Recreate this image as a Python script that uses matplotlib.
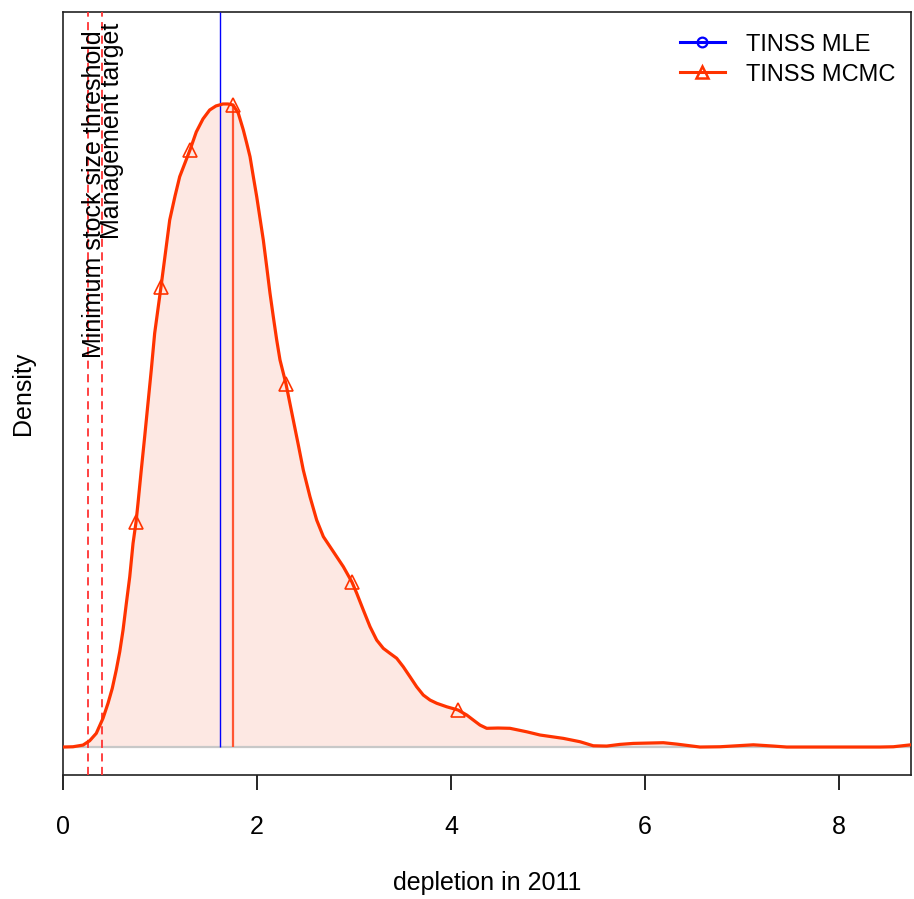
import matplotlib
matplotlib.use("Agg")
import matplotlib.pyplot as plt
from matplotlib.lines import Line2D

plt.rcParams['font.family'] = ['Liberation Sans', 'DejaVu Sans']

# Posterior density of 2011 depletion (TINSS MCMC)
depletion = [0.000, 0.103, 0.206, 0.275, 0.343, 0.412, 0.464, 0.508, 0.549,
             0.585, 0.619, 0.653, 0.688, 0.722, 0.753, 0.773, 0.807, 0.842,
             0.876, 0.910, 0.945, 1.010, 1.100, 1.155, 1.203, 1.309, 1.374,
             1.443, 1.512, 1.577, 1.649, 1.701, 1.753, 1.807, 1.859, 1.894,
             1.928, 1.962, 1.997, 2.031, 2.065, 2.100, 2.134, 2.168, 2.203,
             2.237, 2.299, 2.374, 2.426, 2.477, 2.546, 2.615, 2.684, 2.753,
             2.822, 2.890, 2.979, 3.028, 3.096, 3.165, 3.234, 3.302, 3.371,
             3.440, 3.508, 3.577, 3.646, 3.714, 3.784, 3.853, 3.956, 4.072,
             4.162, 4.230, 4.299, 4.368, 4.485, 4.608, 4.781, 4.918, 5.158,
             5.330, 5.467, 5.605, 5.742, 5.879, 6.189, 6.327, 6.567, 6.773,
             7.117, 7.323, 7.461, 8.423, 8.560, 8.742]
density = [0.0000, 0.0002, 0.0014, 0.0045, 0.0098, 0.0205, 0.0313, 0.0420,
           0.0551, 0.0682, 0.0837, 0.1028, 0.1218, 0.1457, 0.1610, 0.1743,
           0.1982, 0.2220, 0.2459, 0.2697, 0.2960, 0.3291, 0.3770, 0.3942,
           0.4080, 0.4271, 0.4400, 0.4493, 0.4557, 0.4586, 0.4600, 0.4600,
           0.4593, 0.4534, 0.4414, 0.4319, 0.4223, 0.4080, 0.3937, 0.3782,
           0.3627, 0.3436, 0.3246, 0.3078, 0.2912, 0.2769, 0.2597, 0.2339,
           0.2161, 0.1982, 0.1791, 0.1624, 0.1505, 0.1433, 0.1361, 0.1290,
           0.1180, 0.1100, 0.0980, 0.0861, 0.0765, 0.0706, 0.0670, 0.0635,
           0.0574, 0.0503, 0.0431, 0.0372, 0.0336, 0.0313, 0.0288, 0.0265,
           0.0229, 0.0193, 0.0157, 0.0134, 0.0136, 0.0134, 0.0109, 0.0086,
           0.0062, 0.0038, 0.0009, 0.0007, 0.0019, 0.0026, 0.0031, 0.0021,
           0.0000, 0.0002, 0.0016, 0.0007, 0.0000, 0.0000, 0.0002, 0.0016]
# depletion values carrying a symbol on the MCMC curve
marker_depletion = [0.753, 1.010, 1.309, 1.753, 2.299, 2.979, 4.072]

mle_depletion = 1.619      # TINSS MLE point estimate
mcmc_depletion = 1.753     # MCMC central value
msst = 0.258               # minimum stock size threshold
target = 0.402             # management target

x_ticks = [0, 2, 4, 6, 8]
x_limits = (0.0, 8.742)
y_limits = (-0.0200, 0.5258)

curve_col = '#FF3300'
fill_col = '#FDE8E3'

fig = plt.figure(figsize=(9.14, 8.99), dpi=100)
ax = fig.add_axes([63 / 914, 124 / 899, (911 - 63) / 914, 763 / 899])

ax.fill_between(depletion, 0, density, color=fill_col, lw=0, zorder=1)
ax.axhline(0, color='#C8C8C8', lw=1.6, zorder=2)

ax.vlines(mle_depletion, 0, y_limits[1], color='#0000FF', lw=1.0, zorder=3)
mcmc_height = density[depletion.index(mcmc_depletion)]
ax.vlines(mcmc_depletion, 0, mcmc_height, color='#FF5533', lw=1.6, zorder=3)

for ref in (msst, target):
    ax.axvline(ref, color='#FF3333', lw=1.3, linestyle=(0, (4.5, 3)), zorder=3)

ax.plot(depletion, density, color=curve_col, lw=2.3, zorder=4,
        solid_joinstyle='round', solid_capstyle='round')
marker_idx = [depletion.index(v) for v in marker_depletion]
ax.plot([depletion[i] for i in marker_idx], [density[i] for i in marker_idx],
        linestyle='none', marker='^', ms=10, mfc='none', mec=curve_col,
        mew=1.2, zorder=5)

ax.text(0.390, 0.513, 'Minimum stock size threshold', rotation=90,
        rotation_mode='anchor', ha='right', va='baseline', fontsize=18,
        zorder=6)
ax.text(0.575, 0.518, 'Management target', rotation=90,
        rotation_mode='anchor', ha='right', va='baseline', fontsize=18,
        zorder=6)

ax.set_xlim(*x_limits)
ax.set_ylim(*y_limits)
ax.set_xticks(x_ticks)
ax.set_xticklabels([str(t) for t in x_ticks])
ax.set_yticks([])
ax.tick_params(axis='x', direction='out', length=11, width=1.2,
               labelsize=18, pad=18, colors='black')
for sp in ax.spines.values():
    sp.set_linewidth(1.2)
    sp.set_color('#222222')

ax.set_xlabel('depletion in 2011', fontsize=18, labelpad=23)
ax.set_ylabel('Density', fontsize=18, labelpad=20)

handles = [
    Line2D([], [], color='#0000FF', lw=2.2, marker='o', ms=7, mfc='none',
           mec='#0000FF', mew=1.6),
    Line2D([], [], color=curve_col, lw=2.2, marker='^', ms=8, mfc='none',
           mec=curve_col, mew=1.8),
]
ax.legend(handles, ['TINSS MLE', 'TINSS MCMC'], loc='upper left',
          bbox_to_anchor=(0.7276, 0.9715), frameon=False, fontsize=17,
          handlelength=1.9, handletextpad=0.9, labelspacing=0.33,
          borderpad=0, borderaxespad=0)

fig.savefig('out.png', dpi=100)
